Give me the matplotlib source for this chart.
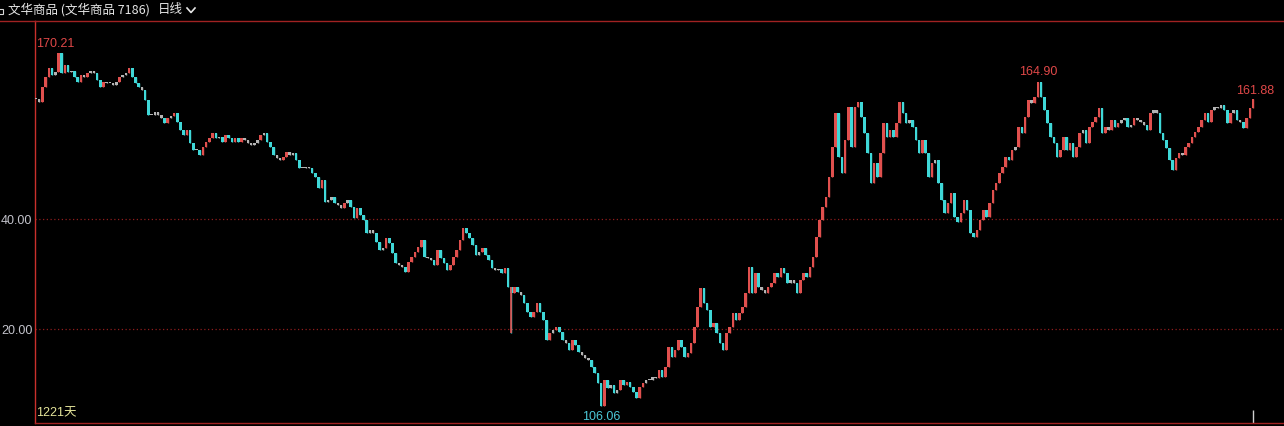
import numpy as np
import matplotlib
matplotlib.use("Agg")
import matplotlib.pyplot as plt
from matplotlib.lines import Line2D
from matplotlib.patches import Rectangle

# ---------------- data ----------------
title_name = "文华商品 (文华商品 7186)"
period_label = "日线"
day_count_label = "1221天"
grid_levels = [120, 140]
grid_labels = ["20.00", "40.00"]

closes = [
    161.8, 161.3, 164.0, 165.8, 167.5, 166.2, 166.7, 170.21, 166.5, 168.0,
    166.7, 167.0, 165.8, 164.9, 166.2, 165.8, 166.5, 167.0, 166.5, 165.3,
    164.0, 164.9, 164.7, 164.7, 164.4, 164.9, 165.8, 166.2, 166.5, 167.5,
    165.8, 164.7, 164.0, 163.5, 161.6, 158.9, 158.9, 159.5, 158.9, 158.4,
    157.5, 158.4, 158.7, 159.3, 157.6, 156.2, 155.3, 156.2, 153.8, 152.5,
    152.5, 151.6, 153.1, 154.0, 154.7, 155.6, 154.7, 154.9, 154.0, 155.3,
    154.7, 154.0, 154.7, 154.0, 154.7, 154.4, 153.8, 153.5, 153.8, 154.4,
    155.3, 155.6, 154.0, 153.1, 151.6, 151.1, 150.7, 151.3, 152.2, 151.6,
    152.0, 150.7, 149.3, 149.3, 149.5, 149.3, 148.4, 147.6, 145.6, 147.1,
    143.1, 143.5, 144.0, 142.9, 142.5, 142.0, 142.9, 143.5, 142.2, 140.2,
    142.0, 140.7, 139.8, 137.5, 138.0, 137.5, 135.8, 134.4, 134.7, 136.5,
    135.6, 133.8, 132.0, 131.6, 131.3, 130.4, 132.2, 133.1, 134.0, 134.9,
    136.2, 133.1, 132.9, 132.5, 131.6, 134.4, 132.9, 132.0, 130.7, 131.6,
    133.1, 134.4, 136.2, 138.4, 137.5, 136.5, 135.3, 133.5, 134.0, 134.7,
    133.5, 132.5, 131.1, 130.7, 130.9, 130.2, 131.1, 127.6, 126.5, 127.6,
    126.7, 126.2, 124.7, 123.1, 122.2, 123.1, 124.7, 123.1, 121.6, 118.0,
    119.3, 119.8, 120.4, 119.5, 118.0, 117.5, 116.2, 118.0, 117.1, 115.8,
    115.3, 114.7, 114.4, 113.1, 112.0, 110.2, 106.06, 110.7, 109.3, 109.8,
    108.4, 108.9, 110.7, 109.8, 110.4, 109.5, 108.5, 107.5, 109.5, 110.2,
    110.7, 110.7, 111.3, 111.1, 112.5, 111.3, 113.1, 116.7, 114.9, 116.2,
    118.0, 116.7, 114.9, 115.6, 117.5, 120.4, 124.0, 127.5, 124.7, 123.5,
    120.4, 121.1, 119.3, 117.5, 116.2, 119.3, 120.4, 122.9, 121.6, 122.9,
    124.0, 126.5, 131.3, 126.5, 130.2, 127.6, 127.1, 126.5, 127.6, 128.4,
    130.2, 129.5, 131.1, 130.2, 128.4, 128.9, 128.4, 126.5, 128.9, 130.2,
    129.5, 131.3, 133.1, 136.7, 139.8, 142.2, 144.0, 147.6, 153.1, 159.3,
    151.3, 148.4, 154.4, 160.4, 153.1, 160.4, 161.3, 158.5, 155.6, 152.0,
    146.5, 150.2, 147.6, 152.0, 157.5, 154.9, 156.2, 154.9, 157.5, 161.3,
    159.3, 157.5, 158.0, 156.7, 154.4, 152.0, 154.4, 152.0, 147.6, 150.2,
    150.7, 146.5, 143.5, 141.1, 142.9, 144.7, 140.4, 139.5, 141.1, 143.5,
    141.6, 137.5, 136.7, 138.0, 139.8, 141.6, 140.4, 142.9, 145.3, 146.5,
    148.4, 149.5, 151.3, 150.7, 152.5, 153.1, 156.7, 155.6, 158.5, 161.6,
    161.1, 162.2, 164.90, 162.2, 159.8, 157.5, 154.9, 153.8, 151.3, 152.5,
    154.9, 152.5, 153.8, 151.3, 153.1, 155.6, 156.2, 153.8, 156.7, 157.6,
    158.5, 160.2, 155.6, 156.7, 156.2, 158.0, 156.7, 157.5, 158.0, 158.4,
    156.7, 157.1, 158.4, 158.0, 157.6, 157.1, 156.2, 159.3, 159.8, 159.3,
    155.6, 154.4, 152.9, 150.7, 148.9, 151.1, 152.0, 151.6, 153.1, 153.8,
    154.9, 155.8, 156.7, 158.0, 159.3, 157.6, 159.8, 160.4, 160.2, 160.7,
    159.8, 157.5, 159.3, 159.8, 158.0, 157.6, 156.5, 158.4, 160.2, 161.88,
]
spike_index = 148
spike_low = 119.3

# ---------------- derived OHLC ----------------
N = len(closes)
idx = np.arange(N)
c = np.array(closes)
o = np.concatenate([[closes[0]], c[:-1]])
hi = np.maximum(o, c)
lo = np.minimum(o, c)
lo[spike_index] = spike_low

UP = "#e0504e"
DOWN = "#3fd8d8"
FLAT = "#b4b4b4"
colors = [UP if cc > oo + 0.6 else (DOWN if cc < oo - 0.6 else FLAT) for oo, cc in zip(o, c)]

# ---------------- figure ----------------
W, H = 1284, 426
fig = plt.figure(figsize=(W / 100, H / 100), dpi=100, facecolor="black")

def fx(px):
    return px / W

def fy(py):
    return 1 - py / H

ax_left, ax_top, ax_bottom = 34.5, 20.5, 422.5
ax = fig.add_axes([fx(ax_left), fy(ax_bottom), 1 - fx(ax_left), (ax_bottom - ax_top) / H])
ax.set_facecolor("black")

ppi = (1253 - 36) / (N - 1)
ax.set_xlim((ax_left - 36) / ppi, (N - 1) + (W - 1253) / ppi)
ax.set_ylim(140 - (ax_bottom - 219) / 5.5, 140 + (219 - ax_top) / 5.5)

# grid
for g in grid_levels:
    ax.axhline(g, color="#8e1d1d", linestyle=(0, (1, 2)), linewidth=0.9, zorder=0)

# candles
ax.vlines(idx, lo, hi, colors=colors, linewidth=1.0, zorder=2)
heights = np.maximum(np.abs(c - o), 0.18)
ax.bar(idx, heights, bottom=np.minimum(o, c), width=0.8,
       color=colors, linewidth=0, zorder=3)
# long spike wick
ax.vlines([spike_index], [spike_low], [hi[spike_index]], colors=[UP], linewidth=1.2, zorder=4)

# ticks
ax.set_yticks(grid_levels)
ax.set_yticklabels(grid_labels)
ax.tick_params(axis="y", length=0, pad=1.5, labelsize=9, labelcolor="#c4c4cc")
for lab in ax.get_yticklabels():
    lab.set_fontfamily(["Liberation Sans"])
ax.set_xticks([])

ax.spines["right"].set_visible(False)
ax.spines["left"].set_color("#c9302c")
ax.spines["top"].set_color("#a02222")
ax.spines["bottom"].set_color("#a02222")
for side in ["left", "top", "bottom"]:
    ax.spines[side].set_linewidth(1.0)

# extend top border to the left edge
fig.add_artist(Line2D([0, fx(ax_left)], [fy(ax_top), fy(ax_top)], color="#a02222", linewidth=1.0))

# extreme labels
i_max = int(np.argmax(hi))
i_min = int(np.argmin(lo))
i_max2 = i_min + int(np.argmax(hi[i_min:]))
i_last = N - 1
lab_font = ["Liberation Sans"]
ax.annotate(f"{hi[i_max]:.2f}", (i_max, hi[i_max]), xytext=(-3, 9), textcoords="offset pixels",
            ha="center", va="center", color="#e04848", fontsize=9, family=lab_font)
ax.annotate(f"{hi[i_max2]:.2f}", (i_max2, hi[i_max2]), xytext=(0, 10), textcoords="offset pixels",
            ha="center", va="center", color="#e04848", fontsize=9, family=lab_font)
ax.annotate(f"{c[i_last]:.2f}", (i_last, c[i_last]), xytext=(2, 8), textcoords="offset pixels",
            ha="center", va="center", color="#e04848", fontsize=9, family=lab_font)
ax.annotate(f"{lo[i_min]:.2f}", (i_min, lo[i_min]), xytext=(0, -11), textcoords="offset pixels",
            ha="center", va="center", color="#4cc8d8", fontsize=9, family=lab_font)

# end-of-data marker
ax.vlines([i_last], 0, 0.03, transform=ax.get_xaxis_transform(), colors="#d0d0d0", linewidth=1.0)

# day count
fig.text(fx(36), fy(413), day_count_label, color="#e4e49a", fontsize=9,
         family=["Liberation Sans", "Noto Sans CJK SC"], ha="left", va="center")

# title bar
fig.add_artist(Rectangle((fx(-3), fy(14)), fx(6), 5 / H, fill=False, edgecolor="#d8d8d8", linewidth=0.8))
fig.text(fx(8), fy(10), title_name, color="#e6e6e6", fontsize=9,
         family=["Noto Sans CJK SC", "DejaVu Sans"], ha="left", va="center")
fig.text(fx(158), fy(10), period_label, color="#e6e6e6", fontsize=9,
         family=["Noto Sans CJK SC", "DejaVu Sans"], ha="left", va="center")
fig.add_artist(Line2D([fx(187), fx(191), fx(195)], [fy(8), fy(12.5), fy(8)], color="#e6e6e6", linewidth=1.2))

fig.savefig("out.png", dpi=100, facecolor="black")
